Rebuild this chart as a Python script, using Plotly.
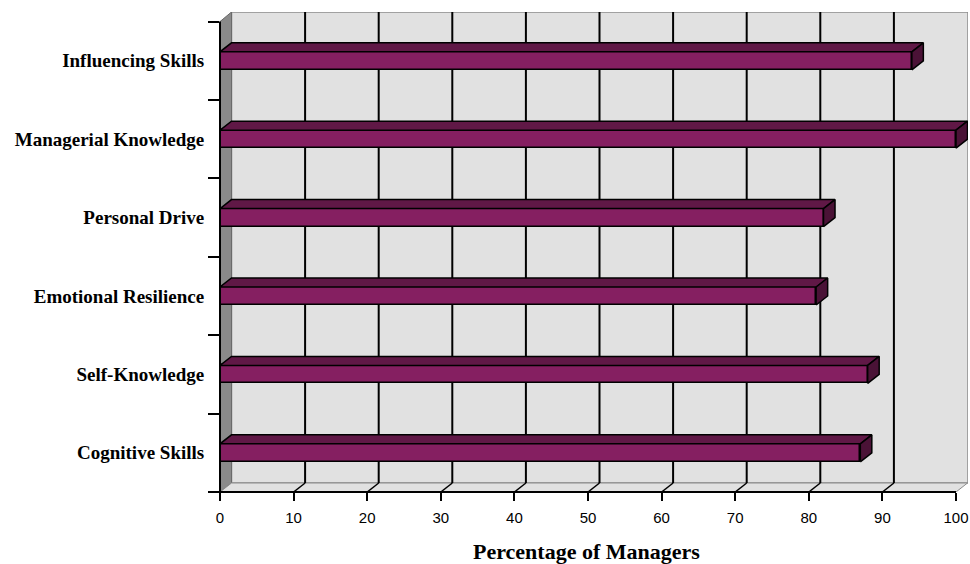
import plotly.graph_objects as go

# ---- data ----
categories = [
    "Cognitive Skills",
    "Self-Knowledge",
    "Emotional Resilience",
    "Personal Drive",
    "Managerial Knowledge",
    "Influencing Skills",
]
percentages = [87, 88, 81, 82, 100, 94]
x_ticks = [0, 10, 20, 30, 40, 50, 60, 70, 80, 90, 100]
axis_title = "Percentage of Managers"

# ---- geometry / style ----
W, H = 970, 564
ML, MR, MT, MB = 220, 2, 12, 72
PW, PH = W - ML - MR, H - MT - MB
PX_X = 7.36            # pixels per percentage point
PX_Y = 78.4            # pixels per category band
XMAX = PW / PX_X
YMIN = -0.5
YMAX = YMIN + PH / PX_Y
DX = 11.5 / PX_X       # depth offset (x) of the 3-D box
DY = 9.0 / PX_Y        # depth offset (y) of the 3-D box
BAR_H = 18.0 / PX_Y

FRONT = "#851F61"
TOP = "#601846"
SIDE = "#4A1236"
WALL = "#E1E1E1"
SIDEWALL = "#8A8A8A"
EDGE = "black"

ypos = list(range(len(categories)))
top_cat = ypos[-1] + 0.5

fig = go.Figure()

# front faces of the bars
fig.add_trace(go.Bar(
    x=percentages, y=ypos, orientation="h", width=BAR_H, base=0,
    marker=dict(color=FRONT, line=dict(color=EDGE, width=1.5)),
    hoverinfo="skip", showlegend=False,
))

# top and side faces giving the bars depth
for y, v in zip(ypos, percentages):
    yt, yb = y + BAR_H / 2, y - BAR_H / 2
    fig.add_trace(go.Scatter(
        x=[0, v, v + DX, DX, 0], y=[yt, yt, yt + DY, yt + DY, yt],
        mode="lines", fill="toself", fillcolor=TOP,
        line=dict(color=EDGE, width=1.5), hoverinfo="skip", showlegend=False,
    ))
    fig.add_trace(go.Scatter(
        x=[v, v + DX, v + DX, v, v], y=[yb, yb + DY, yt + DY, yt, yb],
        mode="lines", fill="toself", fillcolor=SIDE,
        line=dict(color=EDGE, width=1.5), hoverinfo="skip", showlegend=False,
    ))

shapes = []
# back wall
shapes.append(dict(type="rect", xref="x", yref="y", layer="below",
                   x0=DX, x1=XMAX, y0=YMIN + DY, y1=YMAX,
                   fillcolor=WALL, line=dict(color="#8C8C8C", width=1.5)))
# left side wall
shapes.append(dict(type="path", xref="x", yref="y", layer="below",
                   path=f"M0,{YMIN} L{DX},{YMIN + DY} L{DX},{YMAX} L0,{top_cat} Z",
                   fillcolor=SIDEWALL, line=dict(color="#6A6A6A", width=1)))
# floor
xr = x_ticks[-1]
shapes.append(dict(type="path", xref="x", yref="y", layer="below",
                   path=f"M0,{YMIN} L{xr},{YMIN} L{xr + DX},{YMIN + DY} L{DX},{YMIN + DY} Z",
                   fillcolor=WALL, line=dict(color="#8C8C8C", width=1)))
# gridlines on the back wall and their floor connectors
for v in x_ticks[1:-1]:
    shapes.append(dict(type="line", xref="x", yref="y", layer="below",
                       x0=v + DX, x1=v + DX, y0=YMIN + DY, y1=YMAX,
                       line=dict(color=EDGE, width=2)))
    shapes.append(dict(type="line", xref="x", yref="y", layer="below",
                       x0=v, x1=v + DX, y0=YMIN, y1=YMIN + DY,
                       line=dict(color=EDGE, width=1.5)))
# front axis lines
shapes.append(dict(type="line", xref="paper", yref="paper",
                   x0=-11 / PW, x1=xr / XMAX, y0=0, y1=0,
                   line=dict(color=EDGE, width=2)))
shapes.append(dict(type="line", xref="paper", yref="y",
                   x0=0, x1=0, y0=YMIN, y1=top_cat,
                   line=dict(color=EDGE, width=2)))

fig.update_layout(
    width=W, height=H,
    margin=dict(l=ML, r=MR, t=MT, b=MB),
    paper_bgcolor="white", plot_bgcolor="white",
    showlegend=False, bargap=0,
    shapes=shapes,
    xaxis=dict(
        range=[0, XMAX], tickmode="array", tickvals=x_ticks,
        ticktext=[str(t) for t in x_ticks],
        ticks="outside", ticklen=8, tickwidth=2, tickcolor=EDGE,
        ticklabelstandoff=4,
        showgrid=False, zeroline=False, showline=False,
        tickfont=dict(family="Liberation Sans, Arial", size=15, color="black"),
        fixedrange=True,
    ),
    yaxis=dict(
        range=[YMIN, YMAX], tickmode="array", tickvals=ypos, ticktext=categories,
        ticks="outside", ticklen=11, tickcolor="rgba(0,0,0,0)",
        minor=dict(tickmode="array", tickvals=[y - 0.5 for y in ypos] + [top_cat],
                   ticks="outside", ticklen=11, tickwidth=2, tickcolor=EDGE,
                   showgrid=False),
        showgrid=False, zeroline=False, showline=False,
        tickfont=dict(family="Liberation Serif, Times New Roman", size=19,
                      color="black", weight="bold"),
        fixedrange=True,
    ),
    annotations=[dict(
        text=axis_title, xref="paper", yref="paper",
        x=(586.5 - ML) / PW, y=-(551 - (MT + PH)) / PH,
        xanchor="center", yanchor="middle", showarrow=False,
        font=dict(family="Liberation Serif, Times New Roman", size=22,
                  color="black", weight="bold"),
    )],
)

fig.write_html("out.html")
